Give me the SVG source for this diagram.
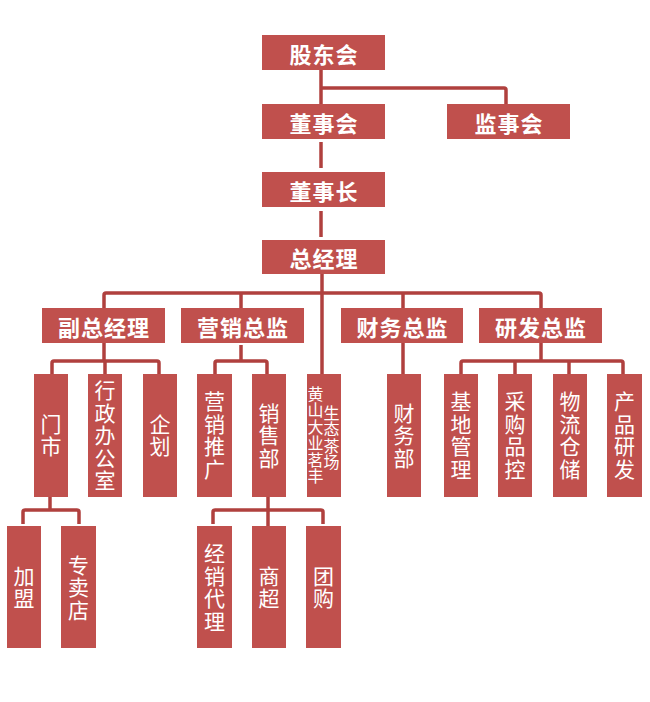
<svg xmlns="http://www.w3.org/2000/svg" width="650" height="702" viewBox="0 0 650 702">
<style>
.box{fill:#c0504d}
.lines path{fill:none;stroke:#b0403e;stroke-width:3.5;stroke-linejoin:round;stroke-linecap:butt}
.t{fill:#fff;font-family:"Noto Sans CJK SC","Noto Sans",sans-serif;font-weight:bold;font-size:22px;letter-spacing:1px;text-anchor:middle;dominant-baseline:central}
.v{fill:#fff;font-family:"Noto Sans CJK SC","Noto Sans",sans-serif;font-size:21px;letter-spacing:1.5px;text-anchor:middle;writing-mode:vertical-rl;dominant-baseline:central}
.s{font-size:16px;letter-spacing:0.5px}
</style>
<rect width="650" height="702" fill="#fff"/>
<g class="lines" id="connectors">
<path d="M321 70V104"/>
<path d="M321 88H504Q506 88 506 90V104"/>
<path d="M321 142V168"/>
<path d="M321 211V237"/>
<path d="M322 274V374"/>
<path d="M104 308V295Q104 293 106 293H539Q541 293 541 295V308"/>
<path d="M241 293V308"/>
<path d="M403 293V308"/>
<path d="M104 343V361"/>
<path d="M52 374V363Q52 361 54 361H157Q159 361 159 363V374"/>
<path d="M105 361V374"/>
<path d="M241 345V361"/>
<path d="M215 374V363Q215 361 217 361H265Q267 361 267 363V374"/>
<path d="M403 343V374"/>
<path d="M541 343V361"/>
<path d="M461 374V363Q461 361 463 361H621Q623 361 623 363V374"/>
<path d="M515 361V374"/>
<path d="M569 361V374"/>
<path d="M50 497V510"/>
<path d="M23 524V512Q23 510 25 510H77Q79 510 79 512V524"/>
<path d="M268 497V526"/>
<path d="M213 524V512Q213 510 215 510H321Q323 510 323 512V524"/>
</g>
<g id="n-gudonghui"><rect class="box" x="262" y="35" width="123" height="35"/><text class="t" x="324" y="52.5">股东会</text></g>
<g id="n-dongshihui"><rect class="box" x="262" y="104" width="123" height="35"/><text class="t" x="324" y="121.5">董事会</text></g>
<g id="n-jianshihui"><rect class="box" x="447" y="104" width="123" height="35"/><text class="t" x="509" y="121.5">监事会</text></g>
<g id="n-dongshizhang"><rect class="box" x="262" y="172" width="123" height="35"/><text class="t" x="324" y="189.5">董事长</text></g>
<g id="n-zongjingli"><rect class="box" x="262" y="240" width="123" height="34"/><text class="t" x="324" y="257">总经理</text></g>
<g id="n-fuzongjingli"><rect class="box" x="42" y="308" width="123" height="35"/><text class="t" x="104" y="325.5">副总经理</text></g>
<g id="n-yingxiaozongjian"><rect class="box" x="181" y="308" width="123" height="35"/><text class="t" x="243" y="325.5">营销总监</text></g>
<g id="n-caiwuzongjian"><rect class="box" x="341" y="308" width="122" height="35"/><text class="t" x="402.5" y="325.5">财务总监</text></g>
<g id="n-yanfazongjian"><rect class="box" x="479" y="308" width="123" height="35"/><text class="t" x="541" y="325.5">研发总监</text></g>
<g id="n-menshi"><rect class="box" x="34" y="374" width="34" height="123"/><text class="v" x="51" y="436">门市</text></g>
<g id="n-xingzheng"><rect class="box" x="88" y="374" width="34" height="123"/><text class="v" x="105" y="436">行政办公室</text></g>
<g id="n-qihua"><rect class="box" x="143" y="374" width="34" height="123"/><text class="v" x="160" y="436">企划</text></g>
<g id="n-yingxiaotuiguang"><rect class="box" x="197" y="374" width="35" height="123"/><text class="v" x="214.5" y="436">营销推广</text></g>
<g id="n-xiaoshoubu"><rect class="box" x="252" y="374" width="34" height="123"/><text class="v" x="269" y="436">销售部</text></g>
<g id="n-huangshan"><rect class="box" x="307" y="374" width="34" height="123"/><text class="v s" x="315.5" y="435">黄山大业茗丰</text><text class="v s" x="331.5" y="437.5">生态茶场</text></g>
<g id="n-caiwubu"><rect class="box" x="387" y="374" width="34" height="123"/><text class="v" x="404" y="436">财务部</text></g>
<g id="n-jidi"><rect class="box" x="444" y="374" width="34" height="123"/><text class="v" x="461" y="436">基地管理</text></g>
<g id="n-caigou"><rect class="box" x="498" y="374" width="34" height="123"/><text class="v" x="515" y="436">采购品控</text></g>
<g id="n-wuliu"><rect class="box" x="553" y="374" width="34" height="123"/><text class="v" x="570" y="436">物流仓储</text></g>
<g id="n-chanpin"><rect class="box" x="607" y="374" width="35" height="123"/><text class="v" x="624.5" y="436">产品研发</text></g>
<g id="n-jiameng"><rect class="box" x="7" y="526" width="34" height="122"/><text class="v" x="24" y="588">加盟</text></g>
<g id="n-zhuanmaidian"><rect class="box" x="61" y="526" width="35" height="122"/><text class="v" x="78.5" y="588">专卖店</text></g>
<g id="n-jingxiao"><rect class="box" x="197" y="526" width="35" height="122"/><text class="v" x="214.5" y="588">经销代理</text></g>
<g id="n-shangchao"><rect class="box" x="252" y="526" width="34" height="122"/><text class="v" x="269" y="588">商超</text></g>
<g id="n-tuangou"><rect class="box" x="306" y="526" width="35" height="122"/><text class="v" x="323.5" y="588">团购</text></g>
</svg>
